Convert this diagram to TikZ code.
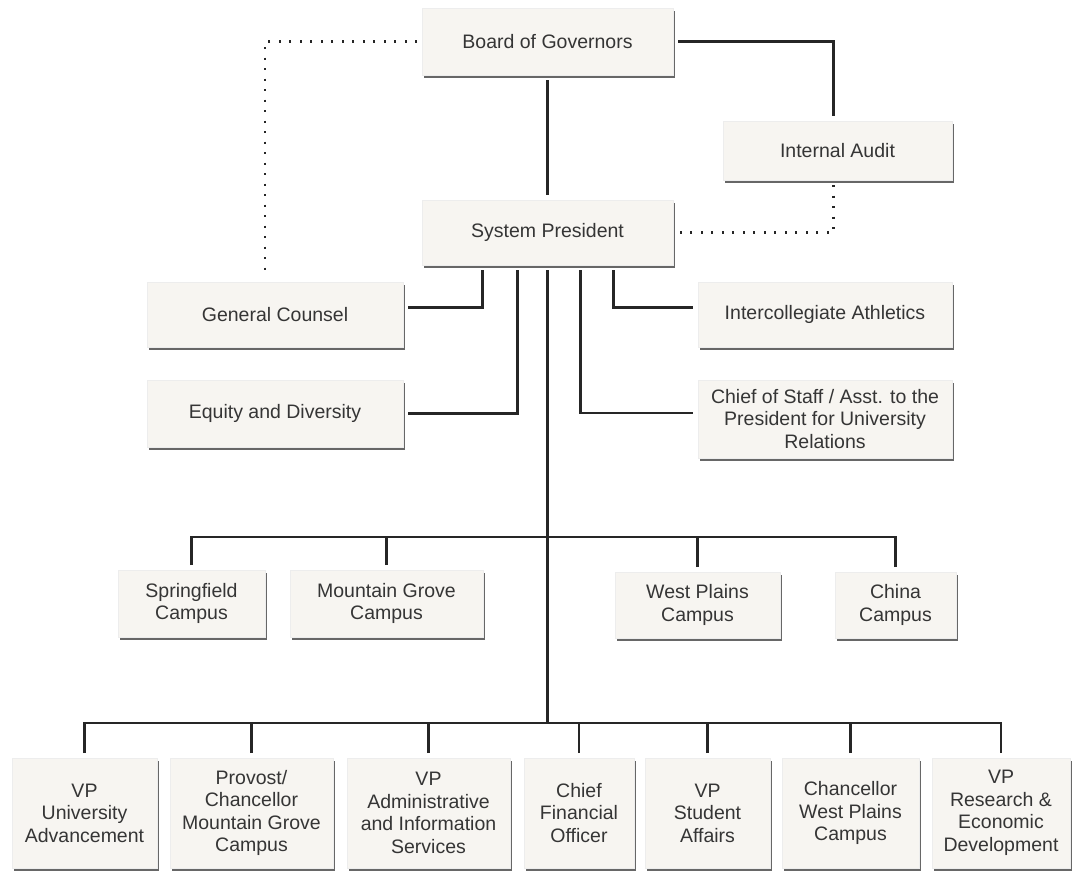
\documentclass[tikz,border=0pt]{standalone}
\usepackage{fontspec}
\setmainfont{Liberation Sans}
\usetikzlibrary{positioning, shadows}

\definecolor{boxfill}{HTML}{F7F5F1}
\definecolor{boxtext}{HTML}{353535}
\definecolor{wire}{HTML}{262626}

\tikzset{
	unit/.style 2 args={fill=boxfill, draw=black!7, text=boxtext, align=center,
		inner sep=0pt, outer sep=5pt, minimum width=#1pt, minimum height=#2pt,
		font=\fontsize{19.5}{22.5}\selectfont,
		drop shadow={shadow xshift=1.8pt, shadow yshift=-3.4pt, fill=black!70, opacity=0.85}},
	link/.style={draw=wire, line width=2.1pt},
	dotlink/.style={draw=wire, line width=2.3pt, dash pattern=on 2pt off 8.5pt}
}

\begin{document}
\begin{tikzpicture}[x=1pt, y=-1pt]
	\useasboundingbox (0,0) rectangle (1074,873);
	\node (gov)[unit={251}{67}] at (547.5,41.5) {Board of Governors};
	\node (audit)[unit={229}{59}] at (837.5,150.5) {Internal Audit};
	\node (pres)[unit={251}{65}] at (547.5,232.5) {System President};
	\node (gc)[unit={256}{65}] at (275,314.5) {General Counsel};
	\node (equity)[unit={256}{67}] at (275,413.5) {Equity and Diversity};
	\node (athl)[unit={254}{65}] at (825,314.5) {Intercollegiate Athletics};
	\node (staff)[unit={254}{78}] at (825,419) {Chief of Staff / Asst. to the\\President for University\\Relations};
	\node (spring)[unit={147}{67}] at (191.5,603.5) {Springfield\\Campus};
	\node (mgrove)[unit={193}{67}] at (386.5,603.5) {Mountain Grove\\Campus};
	\node (wplains)[unit={165}{66}] at (697.5,605) {West Plains\\Campus};
	\node (china)[unit={121}{66}] at (895.5,605) {China\\Campus};
	\node (advance)[unit={145}{110}] at (84.5,813) {VP\\University\\Advancement};
	\node (provost)[unit={163}{110}] at (251.5,813) {Provost/\\Chancellor\\Mountain Grove\\Campus};
	\node (admin)[unit={163}{110}] at (428.5,813) {VP\\Administrative\\and Information\\Services};
	\node (cfo)[unit={110}{110}] at (579,813) {Chief\\Financial\\Officer};
	\node (student)[unit={125}{110}] at (707.5,813) {VP\\Student\\Affairs};
	\node (wpchanc)[unit={137}{110}] at (850.5,813) {Chancellor\\West Plains\\Campus};
	\node (research)[unit={138}{110}] at (1001,813) {VP\\Research \&\\Economic\\Development};
	\coordinate (cbus) at (547.5,537);
	\coordinate (vbus) at (547.5,723);
	\draw[link] (gov) -- (pres);
	\draw[link] (gov.east) -| ([xshift=-4pt]audit.north);
	\draw[dotlink] ([xshift=-4pt]audit.south) |- (pres.east);
	\draw[dotlink] (gov.west) -| ([xshift=-10pt]gc.north);
	\draw[link] ([xshift=-65pt]pres.south) |- ([yshift=7pt]gc.east);
	\draw[link] ([xshift=-30pt]pres.south) |- (equity.east);
	\draw[link] ([xshift=66pt]pres.south) |- ([yshift=7pt]athl.west);
	\draw[link] ([xshift=33pt]pres.south) |- ([yshift=6pt]staff.west);
	\draw[link] (pres.south) -- (vbus);
	\foreach \n in {spring, mgrove, wplains, china}
		\draw[link] (\n.north) |- (cbus);
	\foreach \n in {advance, provost, admin, cfo, student, wpchanc, research}
		\draw[link] (\n.north) |- (vbus);
\end{tikzpicture}
\end{document}
